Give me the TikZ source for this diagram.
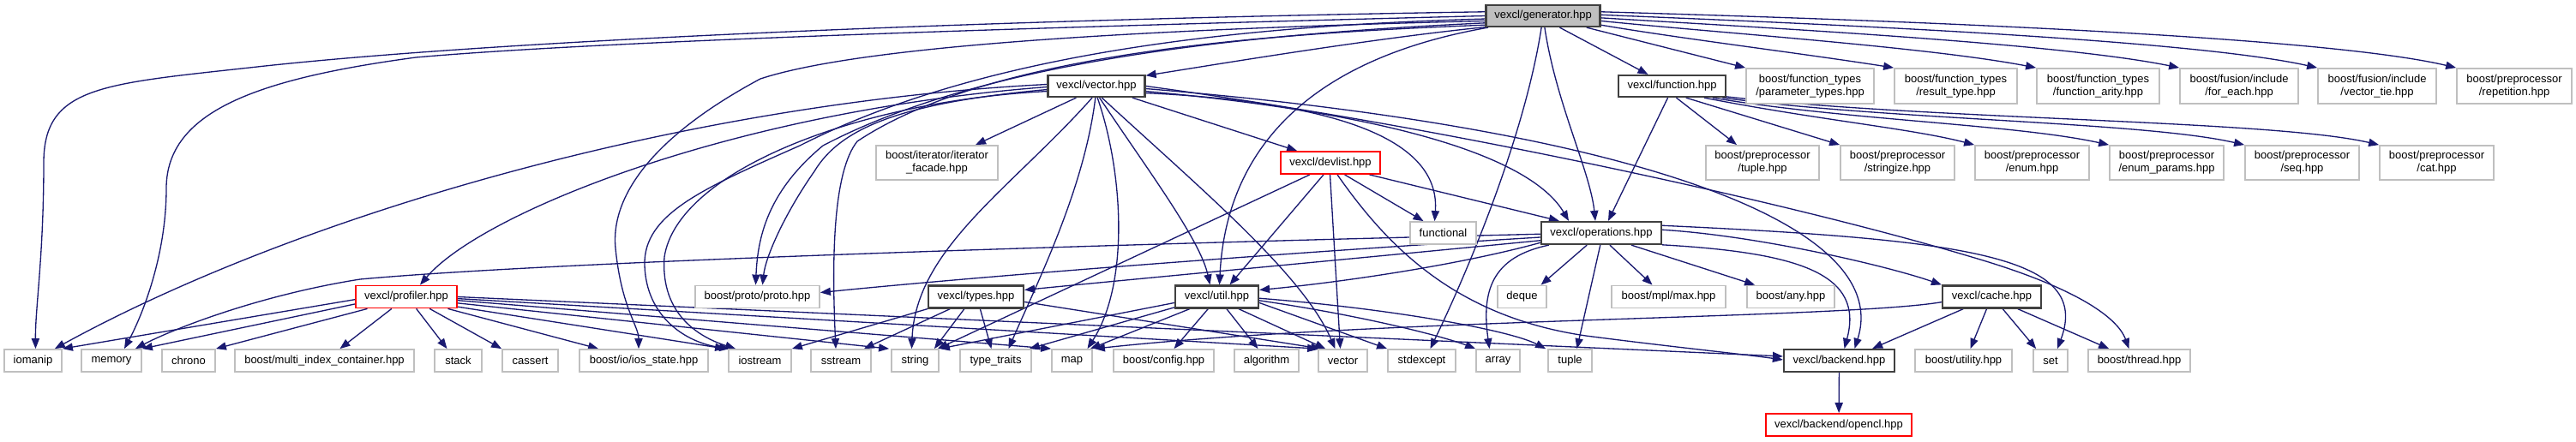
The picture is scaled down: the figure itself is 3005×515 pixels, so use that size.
\documentclass[tikz,border=0pt]{standalone}
\usepackage{fontspec}
\setmainfont{Liberation Sans}
\usetikzlibrary{arrows.meta,calc}
\pgfdeclarelayer{bg}
\pgfsetlayers{bg,main}
\definecolor{edgec}{HTML}{191970}
\definecolor{extc}{HTML}{BFBFBF}
\definecolor{docc}{HTML}{404040}
\definecolor{genfill}{HTML}{BFBFBF}
\tikzset{
  box/.style={rectangle, inner sep=0pt, fill=white, align=center,
    font=\fontsize{3.25pt}{3.7pt}\selectfont, line width=0.45pt},
  ext/.style={box, draw=extc},
  doc/.style={box, draw=docc, line width=0.55pt},
  redb/.style={box, draw=red},
  gen/.style={doc, fill=genfill},
  bw/.style={minimum width=#1*0.25pt},
  bh/.style={minimum height=#1*0.25pt},
  dep/.style={draw=edgec, line width=0.33pt, -{Triangle[length=3pt,width=2.3pt]}},
}
\begin{document}
\begin{tikzpicture}[x=0.25pt,y=-0.25pt]
\useasboundingbox (0,0) rectangle (3005,515);
% ---------- nodes ----------
\node[gen,bw=133,bh=25] (G) at (1800,18.5) {vexcl/generator.hpp};
\node[doc,bw=113,bh=25] (V) at (1279,100.5) {vexcl/vector.hpp};
\node[doc,bw=125,bh=25] (F) at (1950.5,100.5) {vexcl/function.hpp};
\node[ext,bw=149,bh=41] (ptypes) at (2111.5,100.5) {boost/function\_types\\/parameter\_types.hpp};
\node[ext,bw=143,bh=41] (rtype) at (2281.5,100.5) {boost/function\_types\\/result\_type.hpp};
\node[ext,bw=143,bh=41] (farity) at (2447.5,100.5) {boost/function\_types\\/function\_arity.hpp};
\node[ext,bw=138,bh=41] (foreach) at (2612,100.5) {boost/fusion/include\\/for\_each.hpp};
\node[ext,bw=138,bh=41] (vtie) at (2773,100.5) {boost/fusion/include\\/vector\_tie.hpp};
\node[ext,bw=134,bh=41] (rep) at (2933,100.5) {boost/preprocessor\\/repetition.hpp};
\node[ext,bw=142,bh=40] (iterf) at (1093,190) {boost/iterator/iterator\\\_facade.hpp};
\node[redb,bw=116,bh=26] (D) at (1552,190) {vexcl/devlist.hpp};
\node[ext,bw=132,bh=40] (pptuple) at (2056,190) {boost/preprocessor\\/tuple.hpp};
\node[ext,bw=133,bh=40] (ppstr) at (2213.5,190) {boost/preprocessor\\/stringize.hpp};
\node[ext,bw=133,bh=40] (ppenum) at (2370.5,190) {boost/preprocessor\\/enum.hpp};
\node[ext,bw=133,bh=40] (ppenump) at (2527.5,190) {boost/preprocessor\\/enum\_params.hpp};
\node[ext,bw=133,bh=40] (ppseq) at (2685.5,190) {boost/preprocessor\\/seq.hpp};
\node[ext,bw=133,bh=40] (ppcat) at (2842.5,190) {boost/preprocessor\\/cat.hpp};
\node[ext,bw=77,bh=26] (functional) at (1683.5,272) {functional};
\node[doc,bw=140,bh=26] (O) at (1868,272) {vexcl/operations.hpp};
\node[redb,bw=118,bh=26] (P) at (474,346.5) {vexcl/profiler.hpp};
\node[ext,bw=145,bh=26] (proto) at (883.5,346.5) {boost/proto/proto.hpp};
\node[doc,bw=111,bh=26] (T) at (1138.5,346.5) {vexcl/types.hpp};
\node[doc,bw=97,bh=26] (U) at (1419.5,346.5) {vexcl/util.hpp};
\node[ext,bw=57,bh=26] (deque) at (1775.5,346.5) {deque};
\node[ext,bw=133,bh=26] (mplmax) at (1946.5,346.5) {boost/mpl/max.hpp};
\node[ext,bw=102,bh=26] (any) at (2089,346.5) {boost/any.hpp};
\node[doc,bw=115,bh=26] (C) at (2323.5,346.5) {vexcl/cache.hpp};
\node[ext,bw=67,bh=26] (iomanip) at (38.5,421) {iomanip};
\node[ext,bw=70,bh=26] (memory) at (130,421) {memory};
\node[ext,bw=62,bh=26] (chrono) at (220,421) {chrono};
\node[ext,bw=209,bh=26] (mic) at (378.5,421) {boost/multi\_index\_container.hpp};
\node[ext,bw=55,bh=26] (stack) at (534.5,421) {stack};
\node[ext,bw=65,bh=26] (cassert) at (618.5,421) {cassert};
\node[ext,bw=150,bh=26] (iosst) at (751,421) {boost/io/ios\_state.hpp};
\node[ext,bw=73,bh=26] (iostream) at (886.5,421) {iostream};
\node[ext,bw=70,bh=26] (sstream) at (981,421) {sstream};
\node[ext,bw=55,bh=26] (string) at (1067.5,421) {string};
\node[ext,bw=83,bh=26] (ttraits) at (1161.5,421) {type\_traits};
\node[ext,bw=47,bh=26] (map) at (1250.5,421) {map};
\node[ext,bw=117,bh=26] (config) at (1357.5,421) {boost/config.hpp};
\node[ext,bw=75,bh=26] (algorithm) at (1477.5,421) {algorithm};
\node[ext,bw=57,bh=26] (vec) at (1566.5,421) {vector};
\node[ext,bw=79,bh=26] (stdexcept) at (1658.5,421) {stdexcept};
\node[ext,bw=51,bh=26] (array) at (1747.5,421) {array};
\node[ext,bw=51,bh=26] (tuple) at (1831.5,421) {tuple};
\node[doc,bw=129,bh=26] (B) at (2145.5,421) {vexcl/backend.hpp};
\node[ext,bw=113,bh=26] (utility) at (2290.5,421) {boost/utility.hpp};
\node[ext,bw=40,bh=26] (set) at (2392,421) {set};
\node[ext,bw=119,bh=26] (thread) at (2495.5,421) {boost/thread.hpp};
\node[redb,bw=170,bh=26] (opencl) at (2145,496) {vexcl/backend/opencl.hpp};
% ---------- edges ----------
\begin{pgfonlayer}{bg}
\fill[white] (0,0) rectangle (3005,515);
% generator.hpp
\draw[dep] (G.176) .. controls (1200,22) and (600,45) .. (300,78) .. controls (120,98) and (51,100) .. (51,190) .. controls (51,300) and (41,360) .. ($(iomanip.north)+(3,0)$);
\draw[dep] (G.180) .. controls (1200,32) and (700,48) .. (485,67) .. controls (300,92) and (194,130) .. (194,220) .. controls (194,300) and (165,370) .. ($(memory.north)+(15,0)$);
\draw[dep] (G.183) .. controls (1450,30) and (1150,60) .. (933,170) .. controls (820,220) and (750,250) .. (752,310) .. controls (754,370) and (800,400) .. ($(iostream.north west)+(2,0)$);
\draw[dep] (G.185) .. controls (1300,35) and (1000,55) .. (887,92) .. controls (760,160) and (712,230) .. (718,290) .. controls (725,360) and (745,380) .. ($(iosst.north)+(-6,0)$);
\draw[dep] (G.187) .. controls (1450,40) and (1150,70) .. (960,170) .. controls (900,220) and (884,270) .. ($(proto.north)+(-2,0)$);
\draw[dep] (G.189) .. controls (1450,40) and (1150,65) .. (1000,165) .. controls (972,200) and (970,300) .. ($(sstream.north)+(-6,0)$);
\draw[dep] (G.191) .. controls (1600,45) and (1420,75) .. (V.12);
\draw[dep] (G.-168) .. controls (1520,70) and (1430,180) .. ($(U.north)+(3,0)$);
\draw[dep] (G.-98) .. controls (1780,150) and (1720,300) .. ($(stdexcept.north)+(10,0)$);
\draw[dep] (G.-82) .. controls (1815,120) and (1855,200) .. ($(O.north)+(-7,0)$);
\draw[dep] (G.-35) -- ($(F.north)+(-28,0)$);
\draw[dep] (G.-15) -- (ptypes.north west);
\draw[dep] (G.-9) .. controls (1960,45) and (2100,62) .. (rtype.north west);
\draw[dep] (G.-5) .. controls (2000,38) and (2250,55) .. (farity.north west);
\draw[dep] (G.-2) .. controls (2050,32) and (2400,50) .. (foreach.north west);
\draw[dep] (G.1) .. controls (2100,27) and (2550,45) .. (vtie.north west);
\draw[dep] (G.4) .. controls (2150,22) and (2700,40) .. (rep.north west);
% vector.hpp
\draw[dep] (V.178) .. controls (800,120) and (350,250) .. ($(iomanip.north east)+(-9,0)$);
\draw[dep] (V.181) .. controls (850,130) and (560,250) .. ($(P.north)+(16,0)$);
\draw[dep] (V.184) .. controls (1050,120) and (980,150) .. (950,200) .. controls (915,250) and (893,300) .. ($(proto.north)+(6,0)$);
\draw[dep] (V.186) .. controls (1000,118) and (790,200) .. (775,300) .. controls (770,370) and (820,395) .. ($(iostream.north west)+(9,0)$);
\draw[dep] (V.-110) .. controls (1180,220) and (1068,290) .. ($(string.north)+(-4,0)$);
\draw[dep] (V.-95) .. controls (1265,220) and (1210,330) .. ($(ttraits.north)+(15,0)$);
\draw[dep] (V.-85) .. controls (1310,200) and (1318,330) .. ($(map.north)+(18,0)$);
\draw[dep] (V.-75) .. controls (1340,200) and (1400,280) .. ($(U.north)+(-8,0)$);
\draw[dep] (V.-65) .. controls (1400,220) and (1520,320) .. ($(vec.north)+(-9,0)$);
\draw[dep] (V.-18) -- ($(D.north west)+(20,0)$);
\draw[dep] (V.-150) -- ($(iterf.north)+(45,0)$);
\draw[dep] (V.-8) .. controls (1580,120) and (1680,170) .. ($(functional.north)+(-10,0)$);
\draw[dep] (V.-6) .. controls (1650,135) and (1790,190) .. ($(O.north)+(-38,0)$);
\draw[dep] (V.-3) .. controls (1900,150) and (2210,260) .. ($(B.north)+(18,0)$);
\draw[dep] (V.0) .. controls (1700,150) and (2100,240) .. (2300,300) .. controls (2420,335) and (2470,370) .. ($(thread.north)+(-12,0)$);
% function.hpp
\draw[dep] (F.-110) -- ($(O.north)+(8,0)$);
\draw[dep] (F.-70) -- ($(pptuple.north)+(-30,0)$);
\draw[dep] (F.-40) -- (ppstr.north west);
\draw[dep] (F.-20) .. controls (2120,140) and (2230,150) .. (ppenum.north west);
\draw[dep] (F.-16) .. controls (2150,140) and (2350,145) .. (ppenump.north west);
\draw[dep] (F.-13) .. controls (2200,140) and (2500,142) .. (ppseq.north west);
\draw[dep] (F.-11) .. controls (2250,140) and (2650,140) .. (ppcat.north west);
% devlist.hpp
\draw[dep] (D.-150) -- ($(string.north east)+(-2,0)$);
\draw[dep] (D.-120) -- ($(U.north)+(15,0)$);
\draw[dep] (D.-92) -- ($(vec.north)+(-3,0)$);
\draw[dep] (D.-60) .. controls (1620,290) and (1700,370) .. (1850,392) .. controls (1950,405) and (2030,413) .. ($(B.west)+(0,-1)$);
\draw[dep] (D.-40) -- ($(functional.north)+(-23,0)$);
\draw[dep] (D.-17) -- ($(O.north west)+(22,0)$);
% operations.hpp
\draw[dep] (O.181) .. controls (1300,285) and (650,305) .. (420,326) .. controls (300,345) and (200,385) .. ($(memory.north east)+(-8,0)$);
\draw[dep] (O.184) .. controls (1500,295) and (1150,322) .. ($(proto.east)+(0,-5)$);
\draw[dep] (O.187) .. controls (1600,300) and (1300,328) .. ($(T.east)+(0,-8)$);
\draw[dep] (O.189) .. controls (1700,310) and (1560,330) .. ($(U.east)+(0,-8)$);
\draw[dep] (O.-140) -- ($(deque.north)+(22,0)$);
\draw[dep] (O.-55) -- ($(mplmax.north)+(-19,0)$);
\draw[dep] (O.-22) -- ($(any.north west)+(10,0)$);
\draw[dep] (O.-167) .. controls (1740,300) and (1728,340) .. ($(array.north)+(-10,0)$);
\draw[dep] (O.-95) -- ($(tuple.north)+(8,0)$);
\draw[dep] (O.-11) .. controls (2100,295) and (2175,320) .. ($(B.north)+(6,0)$);
\draw[dep] (O.3) .. controls (2050,275) and (2200,310) .. (C.north west);
\draw[dep] (O.7) .. controls (2300,280) and (2440,300) .. ($(set.north)+(8,0)$);
% cache.hpp
\draw[dep] (C.-157) -- ($(B.north east)+(-27,0)$);
\draw[dep] (C.-113) -- ($(utility.north)+(8,0)$);
\draw[dep] (C.-48) -- ($(set.north west)+(4,0)$);
\draw[dep] (C.-25) -- ($(thread.north west)+(25,0)$);
\draw[dep] (C.186) .. controls (2150,372) and (1600,372) .. ($(map.north east)+(2,0)$);
% backend.hpp
\draw[dep] (B) -- (opencl);
% profiler.hpp
\draw[dep] (P.183) -- (iomanip.north east);
\draw[dep] (P.188) -- (memory.north east);
\draw[dep] (P.-163) -- (chrono.north east);
\draw[dep] (P.-141) -- ($(mic.north)+(18,0)$);
\draw[dep] (P.-50) -- ($(stack.north)+(-13,0)$);
\draw[dep] (P.-27) -- (cassert.north west);
\draw[dep] (P.-16) -- ($(iosst.north west)+(23,0)$);
\draw[dep] (P.-11) -- ($(iostream.north west)+(-3,0)$);
\draw[dep] (P.-7) -- ($(string.north west)+(-2,0)$);
\draw[dep] (P.-4) -- (map.north west);
\draw[dep] (P.-2) -- (vec.north west);
\draw[dep] (P.0) -- ($(B.west)+(0,-5)$);
% types.hpp
\draw[dep] (T.south west) -- (iostream.north east);
\draw[dep] (T.-155) -- ($(sstream.north east)+(-9,0)$);
\draw[dep] (T.-134) -- ($(string.north east)+(-6,0)$);
\draw[dep] (T.-71) -- ($(ttraits.north)+(-5,0)$);
\draw[dep] (T.-6) -- ($(vec.north west)+(4,0)$);
% util.hpp
\draw[dep] (U.188) -- (string.north east);
\draw[dep] (U.194) -- ($(ttraits.north east)+(-3,0)$);
\draw[dep] (U.-156) -- ($(map.north east)+(-3,0)$);
\draw[dep] (U.-126) -- ($(config.north)+(12,0)$);
\draw[dep] (U.-51) -- ($(algorithm.north)+(-10,0)$);
\draw[dep] (U.-29) -- ($(vec.north west)+(9,0)$);
\draw[dep] (U.-8) -- (stdexcept.north west);
\draw[dep] (U.-5) .. controls (1600,370) and (1690,395) .. (array.north west);
\draw[dep] (U.-2) .. controls (1620,360) and (1760,385) .. ($(tuple.north west)+(-2,0)$);
\end{pgfonlayer}
\end{tikzpicture}
\end{document}
